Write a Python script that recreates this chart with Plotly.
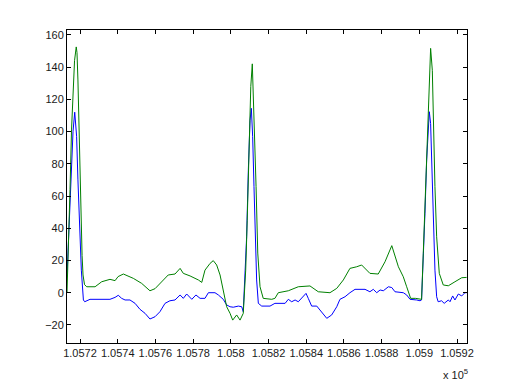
import plotly.graph_objects as go

green_x = [105713.1, 105713.9, 105714.7, 105715.5, 105716.3, 105717.1, 105718.0, 105718.4, 105718.9, 105719.5,
           105720.0, 105720.5, 105721.1, 105721.6, 105722.4, 105723.6, 105728.0, 105731.5, 105735.9, 105738.6,
           105740.2, 105743.0, 105748.3, 105752.7, 105757.1, 105759.8, 105763.3, 105766.8, 105770.4, 105773.1,
           105774.8, 105778.4, 105782.8, 105784.6, 105786.3, 105789.0, 105790.7, 105792.5, 105794.3, 105795.7,
           105797.8, 105799.6, 105801.0, 105803.1, 105804.9, 105806.6, 105807.9, 105808.7, 105809.7, 105810.6,
           105811.4, 105812.5, 105813.4, 105814.3, 105815.5, 105817.2, 105821.7, 105823.4, 105825.2, 105830.5,
           105835.8, 105842.0, 105846.4, 105852.6, 105856.2, 105859.7, 105863.2, 105866.8, 105869.4, 105873.8,
           105878.2, 105881.8, 105885.4, 105888.9, 105891.5, 105893.3, 105895.4, 105897.9, 105901.2, 105902.1,
           105903.0, 105903.9, 105904.8, 105905.7, 105906.0, 105906.9, 105907.4, 105908.3, 105909.2, 105910.6,
           105912.7, 105915.4, 105918.9, 105922.5, 105925.1]
green_y = [0, 26, 64, 101, 129, 144, 152.5, 149, 132, 101,
           70, 45, 23, 11, 5, 3.7, 3.7, 6.8, 8.3, 7.5,
           10, 11.6, 8.9, 5.8, 1.2, 2.5, 6.8, 11, 11.6, 15.1,
           12, 10.4, 7.9, 6.4, 14, 18.2, 19.9, 17.2, 11, 3.7,
           -8.7, -12.8, -17, -13.8, -17, -12.8, 14, 45, 86.6, 128,
           142, 107, 65.8, 24.6, 3.7, -3.5, -4.1, -3.5, 0, 1.2,
           3.7, 4.2, 0.6, 0, 2.7, 7.9, 15.1, 16.1, 17.2, 12,
           11.6, 19.2, 29.2, 16.1, 9.9, 3.7, -3.5, -3.5, -4.1, 24.4,
           55.5, 86.5, 121.6, 150.6, 151.6, 138, 107, 65.8, 34.7, 12,
           4.8, 4.3, 6.8, 9.3, 9.5]

blue_x = [105713.1, 105714.2, 105715.2, 105716.3, 105717.2, 105718.2, 105718.9, 105719.8, 105720.7, 105721.8,
          105722.5, 105725.3, 105730.6, 105735.9, 105738.6, 105740.3, 105742.1, 105743.9, 105746.5, 105749.2,
          105751.8, 105754.5, 105757.1, 105759.8, 105762.4, 105765.1, 105767.7, 105770.4, 105773.1, 105774.8,
          105776.6, 105779.3, 105781.5, 105783.7, 105786.3, 105788.1, 105791.6, 105793.4, 105796.0, 105797.8,
          105799.6, 105801.3, 105804.0, 105805.8, 105806.6, 105807.5, 105808.4, 105809.3, 105810.2, 105810.9,
          105811.6, 105812.3, 105813.0, 105813.7, 105814.6, 105816.4, 105820.8, 105823.4, 105828.8, 105830.5,
          105832.3, 105834.1, 105835.8, 105837.6, 105839.9, 105841.1, 105842.9, 105845.6, 105847.3, 105849.1,
          105850.9, 105853.5, 105856.2, 105857.9, 105860.6, 105863.2, 105865.9, 105871.2, 105873.8, 105875.6,
          105877.4, 105879.2, 105880.9, 105883.6, 105885.4, 105887.1, 105891.5, 105893.3, 105895.1, 105898.6,
          105900.4, 105901.2, 105902.1, 105903.0, 105903.9, 105904.8, 105905.3, 105906.0, 105906.7, 105907.4,
          105908.3, 105909.2, 105910.0, 105911.8, 105913.2, 105915.4, 105916.3, 105917.7, 105918.9, 105920.7,
          105922.5, 105924.2, 105925.1]
blue_y = [10, 40, 75, 100, 112, 97, 70, 45, 14, -4.5,
          -5.6, -4.1, -4.1, -4.1, -2.9, -1.6, -3.5, -4.5, -4.5, -6.6,
          -10.3, -12.8, -16.3, -14.9, -11.8, -6.6, -5, -4.5, -1.4, -3.5,
          -0.8, -4.1, -1.4, -3.5, -3.5, 0, 0, -1.4, -4.1, -7.6,
          -8.7, -9, -8.3, -8.7, -11.8, 14, 34.7, 76, 107, 114.4,
          96.8, 65.8, 34.7, 7.9, -6.6, -8.3, -8.3, -6.6, -6.6, -4.1,
          -5.6, -4.5, -5.6, -3.5, -0.4, -3.5, -8.3, -8.3, -10.7, -13.8,
          -15.9, -13.8, -8.7, -4.1, -2.5, 0, 2.1, 2.1, 0.6, 2.1,
          0, 1.7, 1.2, 3.7, 3.2, 0.6, 0, -1.4, -4.1, -4.5,
          -5, -4.5, 20.3, 49.3, 82.3, 107, 112.3, 105, 76, 45,
          14, -2.5, -5.6, -5, -6.6, -4.5, -5.6, -2, -4.5, -0.8,
          -2, 0, 0]

x_tickvals = [105720, 105740, 105760, 105780, 105800, 105820, 105840, 105860, 105880, 105900, 105920]
x_ticktext = ["1.0572", "1.0574", "1.0576", "1.0578", "1.058", "1.0582",
              "1.0584", "1.0586", "1.0588", "1.059", "1.0592"]
y_tickvals = [-20, 0, 20, 40, 60, 80, 100, 120, 140, 160]

fig = go.Figure()
fig.add_trace(go.Scatter(x=blue_x, y=blue_y, mode="lines",
                         line=dict(color="#0000FF", width=1), showlegend=False))
fig.add_trace(go.Scatter(x=green_x, y=green_y, mode="lines",
                         line=dict(color="#008000", width=1), showlegend=False))

axis_common = dict(showgrid=False, zeroline=False, showline=True, linecolor="black",
                   linewidth=1, mirror="ticks", ticks="inside", ticklen=4,
                   tickcolor="black", tickfont=dict(family="Liberation Sans, Arial", size=11, color="#1a1a1a"))

fig.update_xaxes(range=[105713.1, 105925.3], tickmode="array", tickvals=x_tickvals,
                 ticktext=x_ticktext, **axis_common)
fig.update_yaxes(range=[-31.2, 163], tickmode="array", tickvals=y_tickvals, **axis_common)

fig.add_annotation(text="x 10<sup>5</sup>", xref="paper", yref="paper", x=1.0, y=-0.099,
                   xanchor="right", yanchor="middle", xshift=3, showarrow=False,
                   font=dict(family="Liberation Sans, Arial", size=11, color="#1a1a1a"))

fig.update_layout(width=507, height=377, margin=dict(l=59, r=48, t=22, b=42),
                  paper_bgcolor="white", plot_bgcolor="white")

fig.write_html("out.html")
